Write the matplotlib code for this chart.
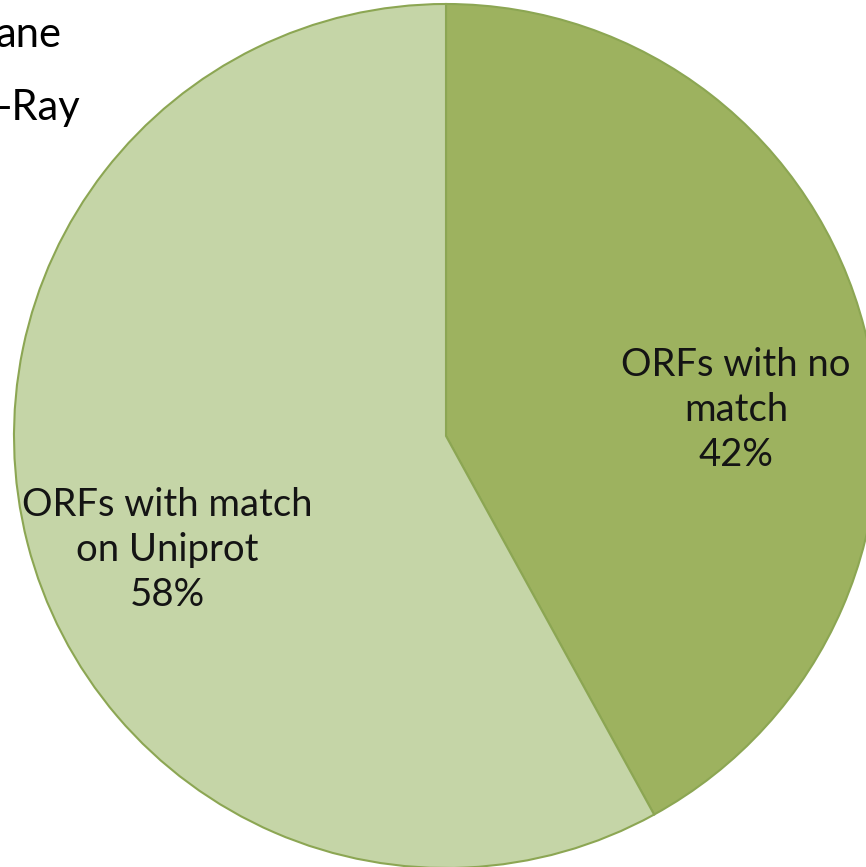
import matplotlib.pyplot as plt

# slices, clockwise from 12 o'clock
labels = ["ORFs with no\nmatch", "ORFs with match\non Uniprot"]
shares = [42, 58]
colors = ["#9DB25F", "#C5D5A7"]

# cut-off legend entries at the top left
legend_bits = ["ane", "-Ray"]

W, H = 866, 867
fig = plt.figure(figsize=(W / 100, H / 100), dpi=100)
ax = fig.add_axes([0, 0, 1, 1])

cx, cy, r = 446, H - 436, 432
ax.pie(shares, colors=colors, startangle=90, counterclock=False,
       center=(cx, cy), radius=r,
       wedgeprops=dict(edgecolor="#8CA653", linewidth=1.5))
ax.set_xlim(0, W)
ax.set_ylim(0, H)
ax.set_aspect("auto")
ax.axis("off")

font = "Lato"
label_pos = [(736, H - 410), (167, H - 550)]
for lab, s, (x, y) in zip(labels, shares, label_pos):
    ax.text(x, y, "%s\n%d%%" % (lab, s), ha="center", va="center",
            fontsize=27.5, family=font, color="#141414", linespacing=1.3)

ax.text(62, H - 35, legend_bits[0], ha="right", va="center",
        fontsize=30, family=font, color="black")
ax.text(80, H - 108, legend_bits[1], ha="right", va="center",
        fontsize=30, family=font, color="black")

fig.savefig("out.png", dpi=100)
